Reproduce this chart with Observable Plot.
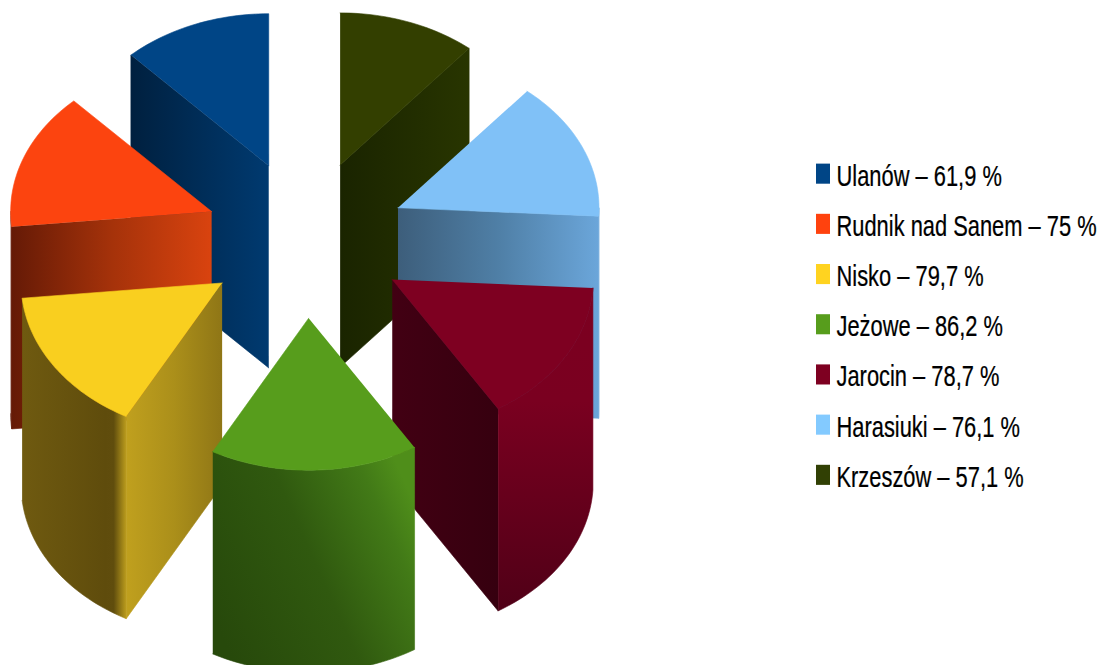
<!DOCTYPE html>
<html lang="pl">
<head>
<meta charset="utf-8">
<script src="https://cdn.jsdelivr.net/npm/d3@7"></script>
<script src="https://cdn.jsdelivr.net/npm/@observablehq/plot@0.6"></script>
<style>
  html, body { margin: 0; padding: 0; background: #fff; }
  #chart { display: flex; width: 1104px; height: 665px; overflow: hidden; }
  #chart svg { display: block; flex: none; }
</style>
</head>
<body>
<div id="chart"></div>
<script>
// ---- chart values ----
const names  = ["Ulanów", "Rudnik nad Sanem", "Nisko", "Jeżowe", "Jarocin", "Harasiuki", "Krzeszów"];
const values = [61.9, 75, 79.7, 86.2, 78.7, 76.1, 57.1];
const labels = ["61,9 %", "75 %", "79,7 %", "86,2 %", "78,7 %", "76,1 %", "57,1 %"];
const colors = ["#004586", "#ff420e", "#ffd320", "#579d1c", "#7e0021", "#83caff", "#314004"];
const topColors = ["#004586", "#fc440f", "#f9cf1f", "#579d1c", "#7e0021", "#80c1f7", "#333f00"];

// ---- wall shading (gradient stops per slice) ----
const radialShade = [
  [[0, "#00203f"], [1, "#003a70"]],
  [[0, "#651a06"], [0.5, "#a5320a"], [1, "#d9430f"]],
  [[0, "#c0a01e"], [0.5, "#ab8f1a"], [1, "#8f7616"]],
  [[0, "#3a5a10"], [1, "#3a5a10"]],
  [[0, "#420013"], [1, "#36000f"]],
  [[0, "#3d5e7b"], [0.5, "#4f7fa6"], [1, "#6ba6da"]],
  [[0, "#1a2400"], [1, "#283500"]]
];
const arcShade = [
  [[0, "#00203f"], [1, "#00203f"]],
  [[0, "#5e1706"], [1, "#651a06"]],
  [[0, "#6f5a10"], [0.8, "#5f4c0c"], [0.88, "#604d0d"], [1, "#bb9c1d"]],
  [[0, "#27490b"], [0.5, "#30590f"], [0.85, "#427a17"], [1, "#4f8e1a"]],
  [[0, "#7c0020"], [0.35, "#7a0020"], [1, "#500017"]],
  [[0, "#6ba6da"], [1, "#6ba6da"]],
  [[0, "#283500"], [1, "#283500"]]
];
const arcVector = [
  [0, 0, 1, 0], [0, 0, 1, 0], [0, 0, 1, 0], [0, 0.75, 1, 0.25], [0, 0, 0, 1], [0, 0, 1, 0], [0, 0, 1, 0]
];

// ---- pie projection, in units of the pie radius ----
const explodeX = 0.5, explodeY = 0.52, depth = 1.33;
const deg = Math.PI / 180;
const total = d3.sum(values);
const starts = Array.from(d3.cumsum([0, ...values]), v => v / total * 360);

const slices = names.map((name, i) => {
  const a0 = starts[i], a1 = starts[i + 1], mid = (a0 + a1) / 2;
  return {i, name, a0, a1, mid,
    ox: -explodeX * Math.sin(mid * deg),
    oy:  explodeY * Math.cos(mid * deg)};
});

function project(s, angle, r, h) {
  return {
    x: s.ox - r * Math.sin(angle * deg),
    y: s.oy + r * Math.cos(angle * deg) - h * depth
  };
}
function arc(s, from, to, h) {
  const n = Math.max(2, Math.ceil(Math.abs(to - from) / 1.5));
  return d3.range(n + 1).map(k => project(s, from + (to - from) * k / n, 1, h));
}

const faces = [];
function addFace(id, paint, pts) {
  pts.forEach(p => faces.push({...p, id, paint}));
}
// back slices first, so that front slices cover them
slices.slice().sort((p, q) => Math.cos(q.mid * deg) - Math.cos(p.mid * deg)).forEach(s => {
  const radial = `url(#radial${s.i})`, wall = `url(#arc${s.i})`;
  if (Math.sin(s.a0 * deg) < -1e-6) {
    addFace(`${s.i}a`, radial, [project(s, 0, 0, 0), project(s, s.a0, 1, 0), project(s, s.a0, 1, 1), project(s, 0, 0, 1)]);
  }
  if (Math.sin(s.a1 * deg) > 1e-6) {
    addFace(`${s.i}b`, radial, [project(s, 0, 0, 0), project(s, s.a1, 1, 0), project(s, s.a1, 1, 1), project(s, 0, 0, 1)]);
  }
  const from = Math.max(s.a0, 90), to = Math.min(s.a1, 270);
  if (to > from) {
    addFace(`${s.i}c`, wall, [...arc(s, from, to, 0), ...arc(s, to, from, 1)]);
  }
  addFace(`${s.i}d`, topColors[s.i], [project(s, 0, 0, 0), ...arc(s, s.a0, s.a1, 0)]);
});

function gradients() {
  const defs = d3.create("svg:defs");
  const add = (id, stops, v) => {
    const g = defs.append("linearGradient").attr("id", id)
      .attr("x1", v[0]).attr("y1", v[1]).attr("x2", v[2]).attr("y2", v[3]);
    stops.forEach(([o, c]) => g.append("stop").attr("offset", o).attr("stop-color", c));
  };
  names.forEach((_, i) => {
    add(`radial${i}`, radialShade[i], [0, 0, 1, 0]);
    add(`arc${i}`, arcShade[i], arcVector[i]);
  });
  return defs.node();
}

const pie = Plot.plot({
  width: 800, height: 665,
  margin: 0,
  x: {axis: null, domain: [-1, 1], range: [305.3 - 201, 305.3 + 201]},
  y: {axis: null, domain: [-1, 1], range: [238.7 + 152, 238.7 - 152]},
  color: {type: "identity"},
  marks: [
    gradients,
    Plot.line(faces, {x: "x", y: "y", z: "id", fill: "paint", stroke: "paint", strokeWidth: 0.6, curve: "linear"})
  ]
});

// ---- legend ----
const legend = names.map((name, i) => ({name, swatch: "s", label: `${name} – ${labels[i]}`}));

const key = Plot.plot({
  width: 304, height: 665,
  margin: 0,
  x: {type: "band", axis: null, domain: ["s"], range: [16, 30], padding: 0, round: false},
  y: {type: "band", axis: null, domain: names, range: [133.5, 515], padding: 0.6, round: false},
  color: {domain: names, range: colors},
  marks: [
    Plot.cell(legend, {x: "swatch", y: "name", fill: "name"}),
    Plot.text(legend, {x: "swatch", y: "name", text: "label", textAnchor: "start", dx: 13, dy: 1.8,
      fontSize: 30, fontFamily: "Liberation Sans, Arial, sans-serif", fill: "#000",
      stroke: "#000", strokeWidth: 0.25})
  ]
});

const chart = document.getElementById("chart");
chart.append(pie, key);

// The reference's legend text is condensed horizontally
key.querySelectorAll("text").forEach(t => {
  t.setAttribute("transform", `${t.getAttribute("transform") || ""} scale(0.729,1)`);
});
</script>
</body>
</html>
